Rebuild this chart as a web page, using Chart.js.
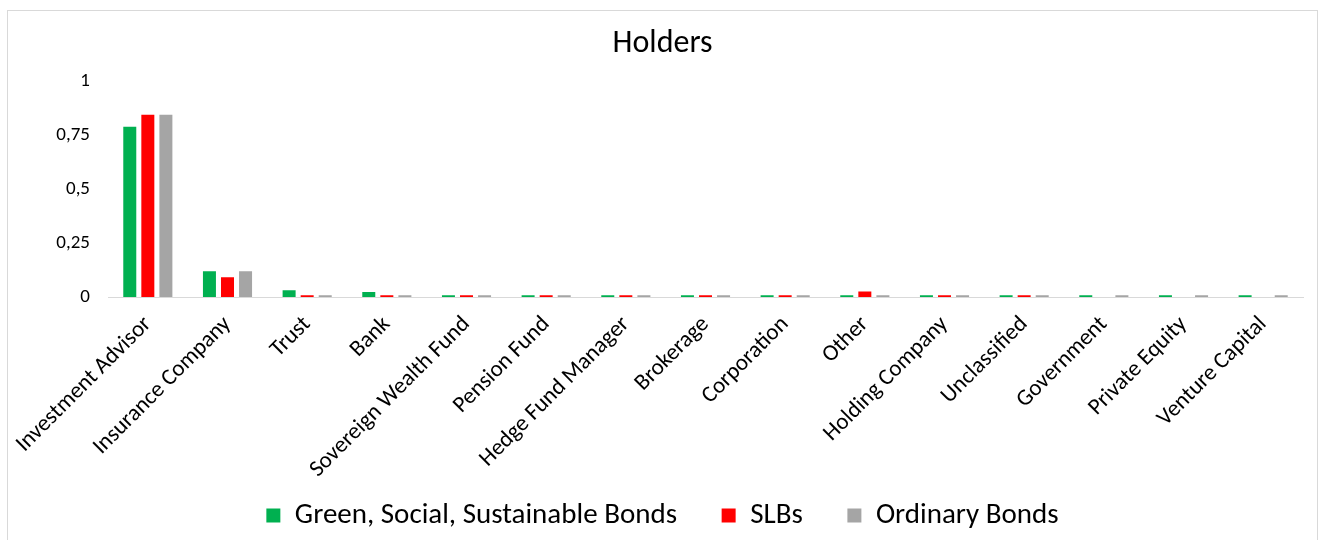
<!DOCTYPE html>
<html>
<head>
<meta charset="utf-8">
<script src="https://cdn.jsdelivr.net/npm/chart.js@4/dist/chart.umd.min.js"></script>
<style>
  html, body { margin: 0; padding: 0; background: #ffffff; }
  body { width: 1321px; height: 540px; position: relative; overflow: hidden; }
  #frame {
    position: absolute; left: 7px; top: 10px; width: 1311px; height: 540px;
    border: 1px solid #d9d9d9; border-bottom: none; box-sizing: border-box;
  }
  #wrap { position: absolute; left: 0; top: 0; width: 1309px; height: 529px; }
</style>
</head>
<body>
<div id="frame"><div id="wrap"><canvas id="chart"></canvas></div></div>
<script>
// Holder types
const categories = [
  "Investment Advisor", "Insurance Company", "Trust", "Bank",
  "Sovereign Wealth Fund", "Pension Fund", "Hedge Fund Manager", "Brokerage",
  "Corporation", "Other", "Holding Company", "Unclassified",
  "Government", "Private Equity", "Venture Capital"
];

// Share of holdings per bond type
const greenSocialSustainable = [0.79, 0.12, 0.031, 0.023, 0.008, 0.008, 0.008, 0.008, 0.008, 0.008, 0.008, 0.008, 0.008, 0.008, 0.008];
const slbs                   = [0.845, 0.092, 0.008, 0.008, 0.008, 0.008, 0.008, 0.008, 0.008, 0.026, 0.008, 0.008, 0, 0, 0];
const ordinaryBonds          = [0.845, 0.12, 0.008, 0.008, 0.008, 0.008, 0.008, 0.008, 0.008, 0.008, 0.008, 0.008, 0.008, 0.008, 0.008];

const yTicks = [0, 0.25, 0.5, 0.75, 1];
const seriesNames = ["Green, Social, Sustainable Bonds", "SLBs", "Ordinary Bonds"];
const colors = ["#00B050", "#FF0000", "#A5A5A5"];

const FONT = "Carlito, Lato, 'Liberation Sans', sans-serif";
const TEXT = "#000000";

// Legend entries are spaced with a trailing em space so the row stays compact vertically
const legendLabels = (chart) => {
  const items = Chart.defaults.plugins.legend.labels.generateLabels(chart);
  items.forEach((it, i) => {
    it.lineWidth = 0;
    if (i < items.length - 1) it.text = it.text + "\u2003\u200A";
  });
  return items;
};

new Chart(document.getElementById("chart"), {
  type: "bar",
  data: {
    labels: categories,
    datasets: [
      { label: seriesNames[0], data: greenSocialSustainable, backgroundColor: colors[0] },
      { label: seriesNames[1], data: slbs, backgroundColor: colors[1] },
      { label: seriesNames[2], data: ordinaryBonds, backgroundColor: colors[2] }
    ]
  },
  options: {
    responsive: true,
    maintainAspectRatio: false,
    animation: false,
    datasets: { bar: { categoryPercentage: 0.68, barPercentage: 0.72 } },
    layout: { padding: { left: 14, right: 14, top: 8, bottom: 0 } },
    plugins: {
      title: {
        display: true, text: "Holders", color: TEXT,
        font: { family: FONT, size: 32, weight: "normal" },
        padding: { top: 6, bottom: 18 }
      },
      legend: {
        position: "bottom",
        labels: {
          color: TEXT, boxWidth: 14, boxHeight: 14, padding: 12,
          font: { family: FONT, size: 29 },
          generateLabels: legendLabels
        }
      },
      tooltip: { enabled: false }
    },
    scales: {
      x: {
        grid: { display: false, drawTicks: false },
        border: { display: true, color: "#d9d9d9", width: 1 },
        afterFit: (axis) => {
          axis.height = 192;
          axis.paddingLeft = 0;
          axis.paddingRight = 0;
        },
        ticks: {
          color: TEXT, minRotation: 45, maxRotation: 45, autoSkip: false, padding: 14,
          font: { family: FONT, size: 23 }
        }
      },
      y: {
        min: 0, max: 1,
        afterBuildTicks: (axis) => { axis.ticks = yTicks.map(v => ({ value: v })); },
        afterFit: (axis) => { axis.width = 86; },
        grid: { display: false, drawTicks: false },
        border: { display: false },
        ticks: {
          color: TEXT, padding: 18,
          font: { family: FONT, size: 19 },
          callback: (v) => String(v).replace(".", ",")
        }
      }
    }
  }
});
</script>
</body>
</html>
